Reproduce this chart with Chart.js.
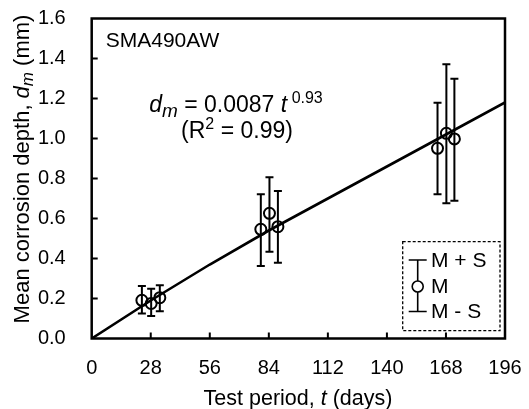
<!DOCTYPE html>
<html>
<head>
<meta charset="utf-8">
<script src="https://cdn.jsdelivr.net/npm/chart.js@4"></script>
<style>
  html, body { margin: 0; padding: 0; background: #fff; }
  #wrap { width: 529px; height: 409px; }
</style>
</head>
<body>
<div id="wrap"><canvas id="c" width="529" height="409"></canvas></div>
<script>
const days   = [23.8, 28.2, 32.3, 80.2, 84.3, 88.3, 164.0, 168.2, 172.0];
const meanD  = [0.191, 0.175, 0.204, 0.546, 0.626, 0.559, 0.951, 1.026, 0.998];
const plusS  = [0.262, 0.249, 0.266, 0.721, 0.806, 0.738, 1.179, 1.371, 1.299];
const minusS = [0.125, 0.113, 0.136, 0.363, 0.434, 0.379, 0.721, 0.676, 0.689];

// fitted curve d = 0.0087 t^0.93
const fitT = [0, 28, 56, 84, 112, 140, 168, 196];
const fitD = [0, 0.19, 0.37, 0.54, 0.70, 0.86, 1.02, 1.18];

const xTicks = [0, 28, 56, 84, 112, 140, 168, 196];
const yTicks = [0.0, 0.2, 0.4, 0.6, 0.8, 1.0, 1.2, 1.4, 1.6];

const FONT = '"Liberation Sans", Arial, sans-serif';

function drawRuns(ctx, runs, x, y) {
  // runs: [text, size, italic, dy]; x is the centre
  let total = 0;
  runs.forEach(r => {
    ctx.font = (r[2] ? 'italic ' : '') + r[1] + 'px ' + FONT;
    total += ctx.measureText(r[0]).width;
  });
  let cx = x - total / 2;
  ctx.textAlign = 'left';
  runs.forEach(r => {
    ctx.font = (r[2] ? 'italic ' : '') + r[1] + 'px ' + FONT;
    ctx.fillText(r[0], cx, y + (r[3] || 0));
    cx += ctx.measureText(r[0]).width;
  });
}

const decor = {
  id: 'decor',
  afterDatasetsDraw(chart) {
    const ctx = chart.ctx;
    const xs = chart.scales.x, ys = chart.scales.y;
    ctx.save();
    ctx.strokeStyle = '#000';
    ctx.lineWidth = 2;
    days.forEach((t, i) => {
      const px = xs.getPixelForValue(t);
      const top = ys.getPixelForValue(plusS[i]);
      const bot = ys.getPixelForValue(minusS[i]);
      ctx.beginPath();
      ctx.moveTo(px, top); ctx.lineTo(px, bot);
      ctx.moveTo(px - 4, top); ctx.lineTo(px + 4, top);
      ctx.moveTo(px - 4, bot); ctx.lineTo(px + 4, bot);
      ctx.stroke();
    });
    ctx.restore();
  },
  afterDraw(chart) {
    const ctx = chart.ctx;
    const a = chart.chartArea;
    const xs = chart.scales.x, ys = chart.scales.y;
    ctx.save();
    ctx.strokeStyle = '#000';
    ctx.fillStyle = '#000';

    // frame
    ctx.lineWidth = 2.5;
    ctx.strokeRect(a.left, a.top, a.right - a.left, a.bottom - a.top);

    // inward ticks
    ctx.lineWidth = 2;
    ctx.beginPath();
    yTicks.slice(1, -1).forEach(v => {
      const py = ys.getPixelForValue(v);
      ctx.moveTo(a.left, py); ctx.lineTo(a.left + 6, py);
    });
    xTicks.slice(1, -1).forEach(v => {
      const px = xs.getPixelForValue(v);
      ctx.moveTo(px, a.bottom); ctx.lineTo(px, a.bottom - 6);
    });
    ctx.stroke();

    ctx.textBaseline = 'alphabetic';
    // specimen label
    ctx.font = '21px ' + FONT;
    ctx.textAlign = 'left';
    ctx.fillText('SMA490AW', a.left + 14, 47);

    // fit equation
    drawRuns(ctx, [
      ['d', 23, true], ['m', 19, true, 5], [' = 0.0087 ', 23], ['t', 23, true], [' 0.93', 16, false, -9]
    ], 236, 112);
    drawRuns(ctx, [
      ['(R', 23], ['2', 16, false, -9], [' = 0.99)', 23]
    ], 237, 138);

    // axis titles
    drawRuns(ctx, [
      ['Test period, ', 21.5], ['t', 21.5, true], [' (days)', 21.5]
    ], 298, 405);
    ctx.save();
    ctx.translate(29, 169);
    ctx.rotate(-Math.PI / 2);
    drawRuns(ctx, [
      ['Mean corrosion depth, ', 22], ['d', 22, true], ['m', 17, true, 4], [' (mm)', 22]
    ], 0, 0);
    ctx.restore();

    // legend box
    const lx = 402.7, ly = 241.7, lw = 97.3, lh = 89;
    ctx.lineWidth = 1.3;
    ctx.setLineDash([3, 2]);
    ctx.strokeRect(lx, ly, lw, lh);
    ctx.setLineDash([]);
    const sx = 417.7, yTop = 260, yMid = 286.5, yBot = 311.5;
    ctx.lineWidth = 1.6;
    ctx.beginPath();
    ctx.moveTo(sx, yTop); ctx.lineTo(sx, yMid - 5.5);
    ctx.moveTo(sx, yMid + 5.5); ctx.lineTo(sx, yBot);
    ctx.moveTo(sx - 9, yTop); ctx.lineTo(sx + 9, yTop);
    ctx.moveTo(sx - 9, yBot); ctx.lineTo(sx + 9, yBot);
    ctx.stroke();
    ctx.beginPath();
    ctx.arc(sx, yMid, 5.5, 0, Math.PI * 2);
    ctx.stroke();
    ctx.font = '21px ' + FONT;
    ctx.textAlign = 'left';
    ctx.textBaseline = 'middle';
    ctx.fillText('M + S', 431, yTop + 1);
    ctx.fillText('M', 431, yMid + 1);
    ctx.fillText('M - S', 431, yBot + 1);
    ctx.restore();
  }
};

new Chart(document.getElementById('c'), {
  type: 'scatter',
  data: {
    datasets: [
      {
        type: 'line',
        data: fitT.map((t, i) => ({ x: t, y: fitD[i] })),
        borderColor: '#000',
        borderWidth: 2.6,
        pointRadius: 0,
        fill: false
      },
      {
        data: days.map((t, i) => ({ x: t, y: meanD[i] })),
        pointStyle: 'circle',
        pointRadius: 5.5,
        pointBorderWidth: 2,
        pointBorderColor: '#000',
        pointBackgroundColor: 'rgba(0,0,0,0)'
      }
    ]
  },
  options: {
    responsive: false,
    animation: false,
    layout: { padding: { top: 18.5, right: 24, left: 0, bottom: 0 } },
    plugins: { legend: { display: false }, tooltip: { enabled: false } },
    scales: {
      x: {
        type: 'linear', min: 0, max: 196,
        afterBuildTicks: s => { s.ticks = xTicks.map(v => ({ value: v })); },
        afterFit: s => { s.height = 70.5; s.paddingLeft = 0; s.paddingRight = 0; },
        grid: { display: false, drawTicks: false },
        border: { display: false },
        ticks: { color: '#000', padding: 18, maxRotation: 0, font: { family: FONT, size: 20 } }
      },
      y: {
        type: 'linear', min: 0, max: 1.6,
        afterBuildTicks: s => { s.ticks = yTicks.map(v => ({ value: v })); },
        afterFit: s => { s.width = 91.7; s.paddingTop = 0; s.paddingBottom = 0; },
        grid: { display: false, drawTicks: false },
        border: { display: false },
        ticks: {
          color: '#000', padding: 26,
          font: { family: FONT, size: 20 },
          callback: v => v.toFixed(1)
        }
      }
    }
  },
  plugins: [decor]
});
</script>
</body>
</html>
